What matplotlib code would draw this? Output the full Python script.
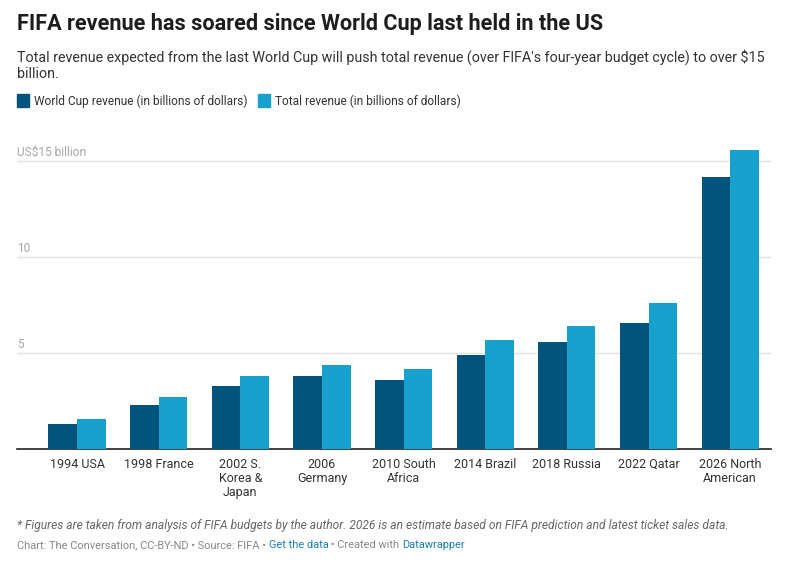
import numpy as np
import matplotlib
matplotlib.use("Agg")
import matplotlib.pyplot as plt
from matplotlib.patches import Rectangle
import matplotlib.transforms as mtransforms

plt.rcParams['font.family'] = ['Roboto', 'DejaVu Sans']

categories = ["1994 USA", "1998 France", "2002 S.\nKorea &\nJapan", "2006\nGermany",
              "2010 South\nAfrica", "2014 Brazil", "2018 Russia", "2022 Qatar",
              "2026 North\nAmerican"]
world_cup = [1.3, 2.3, 3.3, 3.8, 3.6, 4.9, 5.6, 6.6, 14.2]
total = [1.6, 2.7, 3.8, 4.4, 4.2, 5.7, 6.4, 7.6, 15.6]
grid_vals = [5, 10, 15]
grid_labels = ["5", "10", "US$15 billion"]

DARK = "#03547c"
LIGHT = "#19a1cd"
W, H = 790, 567

fig = plt.figure(figsize=(W / 100, H / 100), dpi=100)
fig.patch.set_facecolor("white")

# axes placed in pixel terms
px = 19.2  # pixels per billion
base_y = 449.3
ymax = 16.2
ax = fig.add_axes([17 / W, (H - base_y) / H, (771 - 17) / W, ymax * px / H])
ax.set_ylim(0, ymax)
ax.set_xlim(-0.735, 8.5)

x = np.arange(len(categories))
bw = 0.35
ax.bar(x - bw / 2, world_cup, bw, color=DARK, zorder=3)
ax.bar(x + bw / 2, total, bw, color=LIGHT, zorder=3)

lab_tr = mtransforms.blended_transform_factory(ax.transAxes, ax.transData) + \
    mtransforms.ScaledTranslation(0, 2 / 100, fig.dpi_scale_trans)
for v, lab in zip(grid_vals, grid_labels):
    ax.axhline(v, color="#e3e3e3", lw=1, zorder=1)
    ax.text(0, v, lab, transform=lab_tr, ha="left", va="bottom", fontsize=8.6, color="#a6a6a6")

for s in ["top", "right", "left"]:
    ax.spines[s].set_visible(False)
ax.spines["bottom"].set_color("#222222")
ax.spines["bottom"].set_linewidth(1.2)
ax.set_yticks([])
ax.set_xticks(x)
ax.set_xticklabels(categories, fontsize=9, color="#333333", linespacing=1.1, va="top")
ax.tick_params(axis="x", length=0, pad=6)

# titles
fig.text(17 / W, 1 - 24 / H, "FIFA revenue has soared since World Cup last held in the US",
         fontsize=15.6, fontweight="bold", color="#1d1d1d", va="center")
fig.text(17 / W, 1 - 57 / H, "Total revenue expected from the last World Cup will push total revenue "
         "(over FIFA's four-year budget cycle) to over $15", fontsize=10.3, color="#333333", va="center")
fig.text(17 / W, 1 - 74 / H, "billion.", fontsize=10.3, color="#333333", va="center")

# legend
fig.patches.append(Rectangle((17 / W, 1 - 107 / H), 12 / W, 13 / H, transform=fig.transFigure,
                             color=DARK, figure=fig))
fig.text(34 / W, 1 - 101 / H, "World Cup revenue (in billions of dollars)", fontsize=8.6,
         color="#333333", va="center")
fig.patches.append(Rectangle((258 / W, 1 - 107 / H), 12 / W, 13 / H, transform=fig.transFigure,
                             color=LIGHT, figure=fig))
fig.text(275 / W, 1 - 101 / H, "Total revenue (in billions of dollars)", fontsize=8.6,
         color="#333333", va="center")

# notes
fig.text(17 / W, 1 - 526 / H, "* Figures are taken from analysis of FIFA budgets by the author. "
         "2026 is an estimate based on FIFA prediction and latest ticket sales data.",
         fontsize=8.65, style="italic", color="#666666", va="center")

parts = [("Chart: The Conversation, CC-BY-ND • Source: FIFA • ", "#888888"),
         ("Get the data", "#1a7fb0"),
         (" • Created with ", "#888888"),
         ("Datawrapper", "#1a7fb0")]
renderer = fig.canvas.get_renderer()
xpos = 17
for txt, col in parts:
    t = fig.text(xpos / W, 1 - 545 / H, txt, fontsize=7.9, color=col, va="center")
    bb = t.get_window_extent(renderer=renderer)
    xpos += bb.width

fig.savefig("out.png", dpi=100)
